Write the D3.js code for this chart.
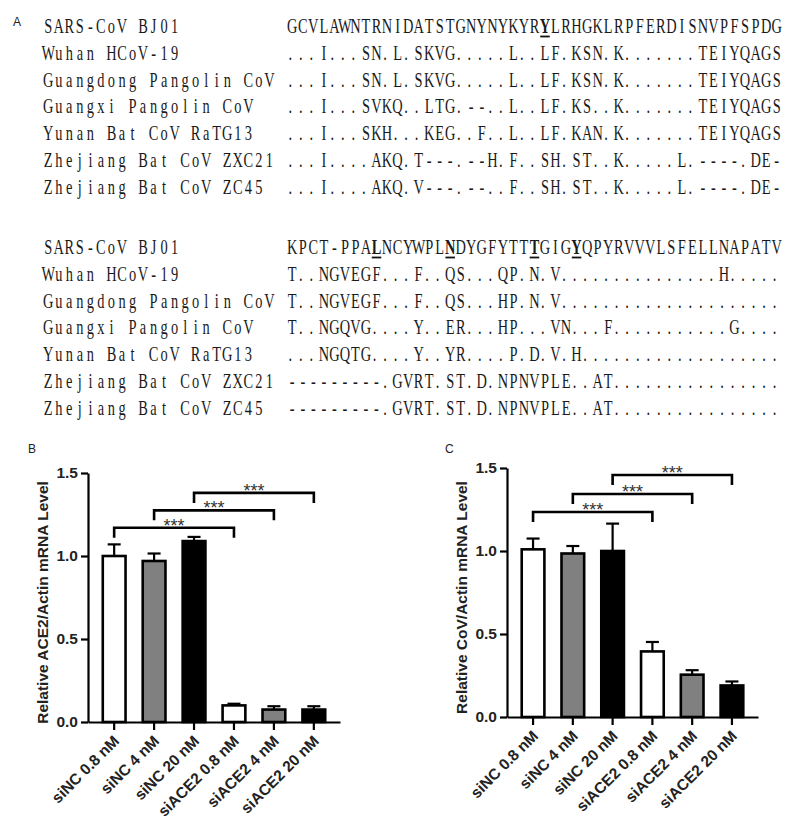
<!DOCTYPE html>
<html><head><meta charset="utf-8">
<script src="https://cdn.jsdelivr.net/npm/d3@7"></script>
<style>
html,body{margin:0;padding:0;background:#fff;}
</style></head>
<body><svg id="fig" width="800" height="825"></svg>
<script>
// ---------- data ----------
const strainNames = ["SARS-CoV BJ01","Wuhan HCoV-19","Guangdong Pangolin CoV","Guangxi Pangolin CoV","Yunan Bat CoV RaTG13","Zhejiang Bat CoV ZXC21","Zhejiang Bat CoV ZC45"];
const seqBlock1 = [
"GCVLAWNTRNIDATSTGNYNYKYRYLRHGKLRPFERDISNVPFSPDG",
"...I...SN.L.SKVG.....L..LF.KSN.K.......TEIYQAGS",
"...I...SN.L.SKVG.....L..LF.KSN.K.......TEIYQAGS",
"...I...SVKQ..LTG.--..L..LF.KS..K.......TEIYQAGS",
"...I...SKH...KEG..F..L..LF.KAN.K.......TEIYQAGS",
"...I....AKQ.T---.--H.F..SH.ST..K.....L.----.DE-",
"...I....AKQ.V---.--..F..SH.ST..K.....L.----.DE-"];
const seqBlock2 = [
"KPCT-PPALNCYWPLNDYGFYTTTGIGYQPYRVVVLSFELLNAPATV",
"T..NGVEGF...F..QS...QP.N.V...............H.....",
"T..NGVEGF...F..QS...HP.N.V.....................",
"T..NGQVG....Y..ER...HP...VN...F...........G....",
"...NGQTG....Y..YR....P.D.V.H...................",
"---------.GVRT.ST.D.NPNVPLE..AT................",
"---------.GVRT.ST.D.NPNVPLE..AT................"];
const keyResidues1 = [24];
const keyResidues2 = [8, 15, 23, 27];

const categories = ["siNC 0.8 nM","siNC 4 nM","siNC 20 nM","siACE2 0.8 nM","siACE2 4 nM","siACE2 20 nM"];
const ace2Mean = [1.00, 0.97, 1.09, 0.10, 0.075, 0.075];
const ace2Err  = [0.07, 0.045, 0.025, 0.01, 0.02, 0.02];
const covMean  = [1.01, 0.985, 1.00, 0.395, 0.255, 0.19];
const covErr   = [0.065, 0.045, 0.165, 0.057, 0.027, 0.024];
const yTicks = [0, 0.5, 1.0, 1.5];
const compPairs = [[0,3],[1,4],[2,5]];
const ace2BracketLevels = [1.17, 1.275, 1.38];
const covBracketLevels  = [1.235, 1.343, 1.458];
const sigLabel = "***";

// ---------- styles ----------
const barFills = ["#ffffff","#808080","#000000","#ffffff","#808080","#000000"];
const svg = d3.select("#fig");
const seqFont = "'Liberation Serif','Times New Roman',serif";
const sansFont = "'Liberation Sans',Arial,Helvetica,sans-serif";

// ---------- panel A: alignment ----------
const cw = 10.53, nameX = 43, seqX = 287, sx = 0.72, fs = 20;
function monoText(g, str, x0, y, boldIdx){
  const t = g.append("text")
    .attr("transform", `translate(${x0},${y}) scale(${sx},1)`)
    .attr("font-family", seqFont).attr("font-size", fs).attr("fill", "#1a1a1a")
    .attr("text-anchor", "middle");
  const chars = Array.from(str);
  chars.forEach((c, k) => {
    if (c === " ") return;
    const cx = c === "." ? k*cw + 3.2 : k*cw + cw/2;
    const ts = t.append("tspan").attr("x", cx/sx).attr("y", 0).text(c);
    if (boldIdx.includes(k)) ts.attr("font-weight", "bold");
  });
  return t;
}
function drawBlock(seqs, keys, y0){
  const step = 26.8;
  const g = svg.append("g");
  seqs.forEach((s, i) => {
    const y = y0 + i*step;
    monoText(g, strainNames[i], nameX, y, []);
    monoText(g, s, seqX, y, i === 0 ? keys : []);
    if (i === 0){
      keys.forEach(k => {
        g.append("line").attr("x1", seqX + k*cw + 0.5).attr("x2", seqX + (k+1)*cw - 0.5)
          .attr("y1", y + 3.5).attr("y2", y + 3.5).attr("stroke", "#111").attr("stroke-width", 1.8);
      });
    }
  });
}
drawBlock(seqBlock1, keyResidues1, 33);
drawBlock(seqBlock2, keyResidues2, 254);

svg.append("text").attr("x", 13).attr("y", 26).attr("font-family", sansFont)
  .attr("font-size", 12).attr("fill", "#222").text("A");

// ---------- bar charts ----------
function drawChart(opt){
  const g = svg.append("g");
  const x = d3.scaleBand().domain(categories).range([opt.x0, opt.x1])
    .paddingInner(0.43).paddingOuter(0.37);
  const y = d3.scaleLinear().domain([0, 1.5]).range([opt.yBase, opt.yTop]);

  // bars
  g.selectAll("rect.bar").data(opt.mean).join("rect").attr("class","bar")
    .attr("x", (d,i) => x(categories[i]))
    .attr("width", x.bandwidth())
    .attr("y", d => y(d))
    .attr("height", d => y(0) - y(d))
    .attr("fill", (d,i) => barFills[i])
    .attr("stroke", "#000").attr("stroke-width", 2.6);

  // error bars (upper only)
  const cap = 13;
  opt.mean.forEach((m, i) => {
    const cx = x(categories[i]) + x.bandwidth()/2;
    g.append("line").attr("x1", cx).attr("x2", cx)
      .attr("y1", y(m)).attr("y2", y(m + opt.err[i]))
      .attr("stroke", "#000").attr("stroke-width", 2.2);
    g.append("line").attr("x1", cx - cap/2).attr("x2", cx + cap/2)
      .attr("y1", y(m + opt.err[i])).attr("y2", y(m + opt.err[i]))
      .attr("stroke", "#000").attr("stroke-width", 2.2);
  });

  // significance brackets
  compPairs.forEach((p, j) => {
    const xa = x(categories[p[0]]) + x.bandwidth()/2;
    const xb = x(categories[p[1]]) + x.bandwidth()/2;
    const yl = y(opt.levels[j]);
    const leg = 10;
    g.append("path")
      .attr("d", `M${xa},${yl+leg}V${yl}H${xb}V${yl+leg}`)
      .attr("fill","none").attr("stroke","#000").attr("stroke-width", 2.6);
    g.append("text").attr("x", (xa+xb)/2).attr("y", yl + 4)
      .attr("text-anchor","middle").attr("font-family", sansFont)
      .attr("font-size", 18).attr("fill","#333").text(sigLabel);
  });

  // y axis
  const ya = g.append("g").attr("transform", `translate(${opt.x0},0)`)
    .call(d3.axisLeft(y).tickValues(yTicks).tickFormat(d3.format(".1f")).tickSize(7).tickSizeOuter(0).tickPadding(3));
  ya.select(".domain").attr("stroke-width", 2.2);
  ya.selectAll(".tick line").attr("stroke-width", 2.2);
  ya.selectAll(".tick text").attr("font-family", sansFont).attr("font-size", 15.5)
    .attr("font-weight","bold").attr("fill","#222");

  // x axis
  const xa = g.append("g").attr("transform", `translate(0,${opt.yBase})`)
    .call(d3.axisBottom(x).tickSize(8).tickSizeOuter(0));
  xa.select(".domain").attr("stroke-width", 2.2);
  xa.selectAll(".tick line").attr("stroke-width", 2.2);
  xa.selectAll(".tick text").attr("font-family", sansFont).attr("font-size", 15.5)
    .attr("font-weight","bold").attr("fill","#222")
    .attr("text-anchor","end").attr("y", 0).attr("dy", 0)
    .attr("transform","translate(6,20) rotate(-45)");

  // y label
  g.append("text").attr("transform", `translate(${opt.labelX},${(opt.yBase+opt.yTop)/2 + 5}) rotate(-90)`)
    .attr("text-anchor","middle").attr("font-family", sansFont).attr("font-size", 15.5)
    .attr("font-weight","bold").attr("fill","#222").text(opt.ylabel);

  // panel letter
  svg.append("text").attr("x", opt.letterX).attr("y", 453).attr("font-family", sansFont)
    .attr("font-size", 12).attr("fill","#222").text(opt.letter);
}

drawChart({x0: 88, x1: 340, yBase: 722, yTop: 473, mean: ace2Mean, err: ace2Err,
  levels: ace2BracketLevels, ylabel: "Relative ACE2/Actin mRNA Level", labelX: 48, letter: "B", letterX: 28});
drawChart({x0: 507, x1: 758, yBase: 717, yTop: 468, mean: covMean, err: covErr,
  levels: covBracketLevels, ylabel: "Relative CoV/Actin mRNA Level", labelX: 467, letter: "C", letterX: 445});
</script>
</body></html>
